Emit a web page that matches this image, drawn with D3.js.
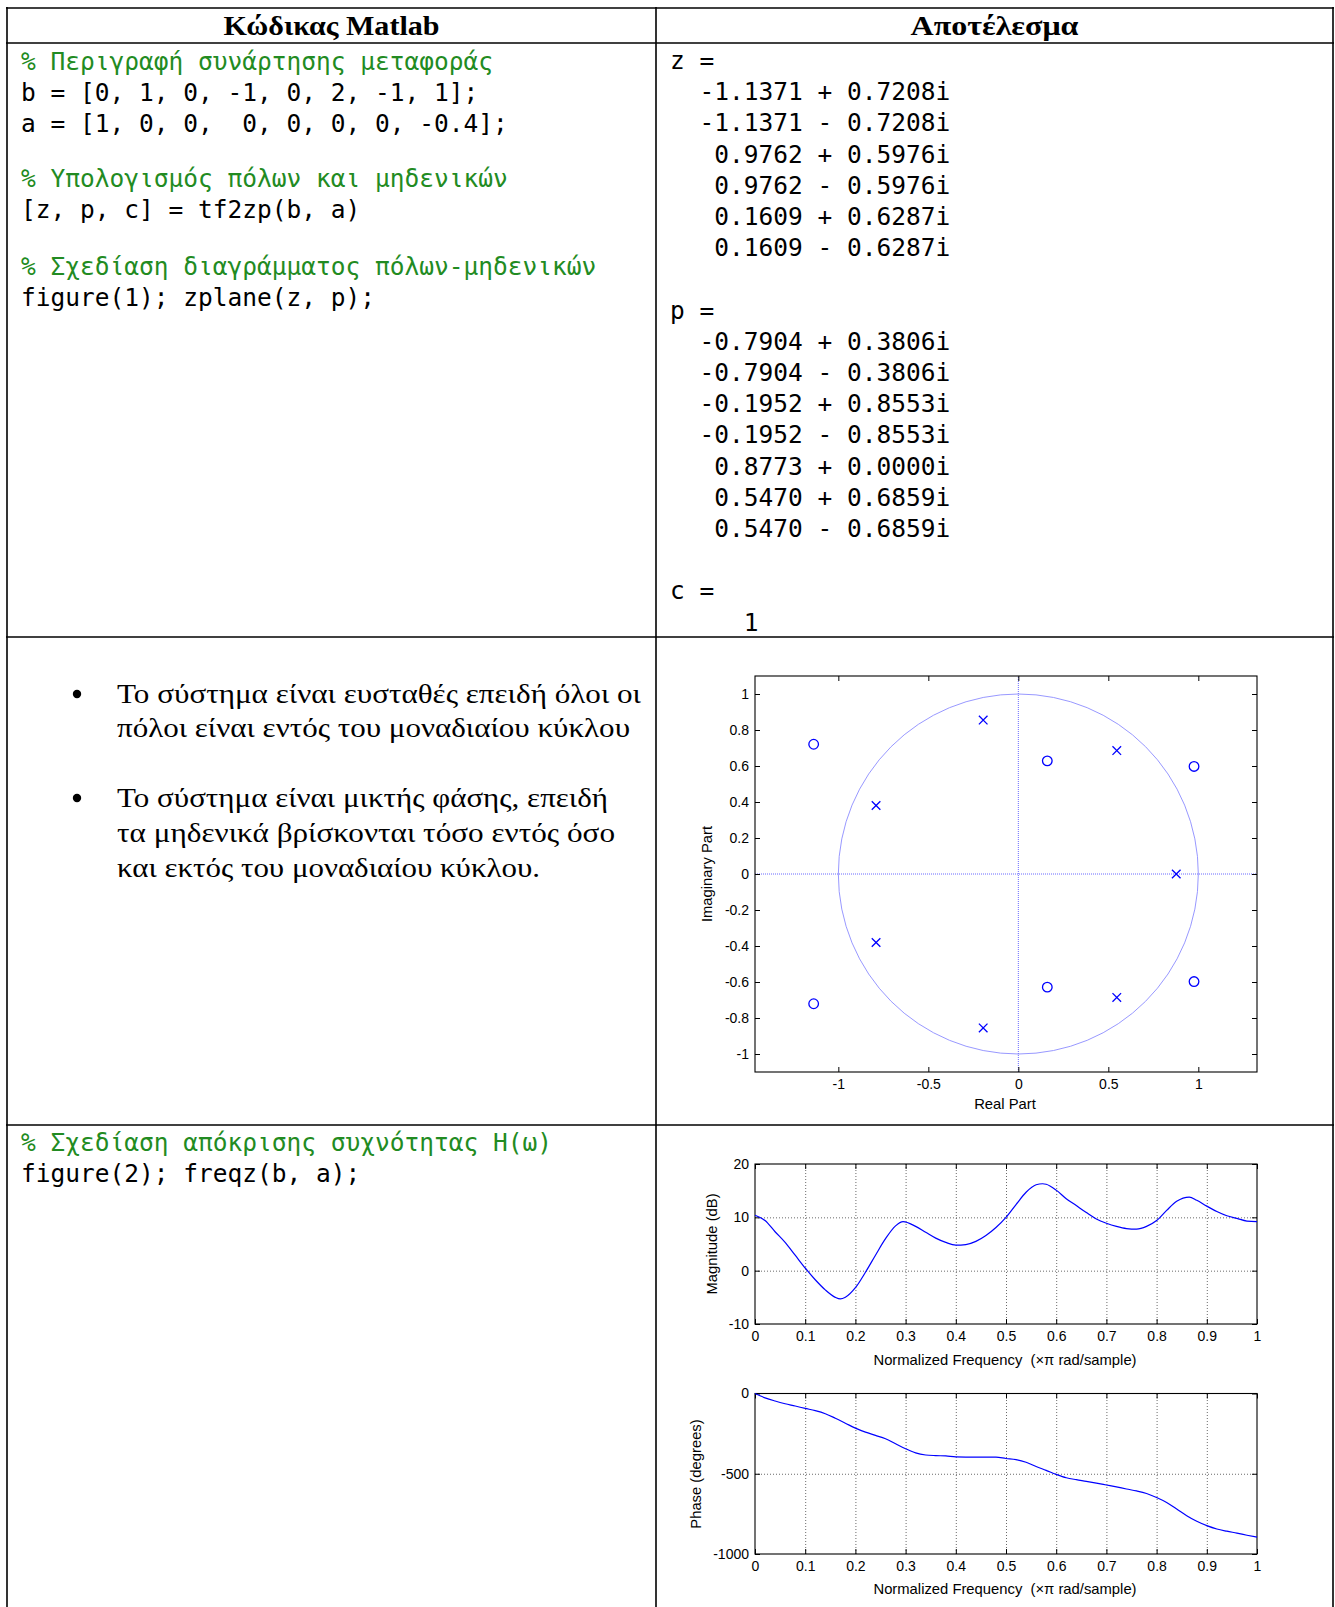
<!DOCTYPE html>
<html>
<head>
<meta charset="utf-8">
<script src="https://cdn.jsdelivr.net/npm/d3@7"></script>
<style>
  body { margin: 0; background: #fff; }
  svg text { white-space: pre; }
</style>
</head>
<body>
<div id="chart"></div>
<script>
var svgWidth = 1335;
var svgHeight = 1607;

// --- data ---
var zerosRe = [-1.1371, -1.1371, 0.9762, 0.9762, 0.1609, 0.1609];
var zerosIm = [0.7208, -0.7208, 0.5976, -0.5976, 0.6287, -0.6287];
var polesRe = [-0.7904, -0.7904, -0.1952, -0.1952, 0.8773, 0.5470, 0.5470];
var polesIm = [0.3806, -0.3806, 0.8553, -0.8553, 0.0000, 0.6859, -0.6859];
var gainC = 1;

var zTicksX = [-1, -0.5, 0, 0.5, 1];
var zTicksY = [-1, -0.8, -0.6, -0.4, -0.2, 0, 0.2, 0.4, 0.6, 0.8, 1];
var freqTicks = [0, 0.1, 0.2, 0.3, 0.4, 0.5, 0.6, 0.7, 0.8, 0.9, 1];
var magTicks = [-10, 0, 10, 20];
var phaseTicks = [-1000, -500, 0];

var magFreq = [0, 0.02, 0.04, 0.06, 0.08, 0.10, 0.12, 0.14, 0.16, 0.17,
               0.18, 0.20, 0.22, 0.24, 0.26, 0.28, 0.295, 0.32, 0.34, 0.36,
               0.38, 0.40, 0.42, 0.44, 0.46, 0.48, 0.50, 0.52, 0.54, 0.56,
               0.573, 0.58, 0.60, 0.62, 0.64, 0.66, 0.68, 0.70, 0.72, 0.74,
               0.76, 0.78, 0.80, 0.82, 0.84, 0.865, 0.88, 0.90, 0.92, 0.94,
               0.96, 0.98, 1.00];
var magDb = [10.4, 9.4, 7.3, 5.3, 2.9, 0.5, -1.7, -3.6, -5.0, -5.3,
             -5.0, -3.2, -0.3, 2.9, 6.0, 8.4, 9.2, 8.3, 7.2, 6.1,
             5.3, 4.8, 4.9, 5.5, 6.6, 8.1, 10.0, 12.4, 14.7, 16.1,
             16.3, 16.2, 15.1, 13.5, 12.2, 10.9, 9.7, 8.9, 8.3, 7.9,
             7.8, 8.3, 9.4, 11.3, 13.0, 13.8, 13.2, 12.1, 11.1, 10.3,
             9.8, 9.3, 9.2];

var phaseFreq = [0, 0.02, 0.04, 0.06, 0.08, 0.10, 0.12, 0.14, 0.16, 0.18,
                 0.20, 0.22, 0.24, 0.26, 0.28, 0.30, 0.32, 0.34, 0.36, 0.38,
                 0.40, 0.44, 0.48, 0.50, 0.52, 0.54, 0.56, 0.58, 0.60, 0.62,
                 0.64, 0.66, 0.68, 0.70, 0.72, 0.74, 0.76, 0.78, 0.80, 0.82,
                 0.84, 0.86, 0.88, 0.90, 0.92, 0.94, 0.96, 0.98, 1.00];
var phaseDeg = [0, -27, -47, -64, -78, -93, -107, -126, -154, -185,
                -216, -241, -261, -282, -313, -344, -370, -383, -387, -389,
                -395, -397, -397, -405, -412, -428, -455, -479, -504, -525,
                -537, -547, -558, -570, -582, -595, -607, -623, -648, -679,
                -720, -761, -796, -823, -844, -858, -870, -883, -895];

var codeTop = [
  { t: "% Περιγραφή συνάρτησης μεταφοράς", c: true },
  { t: "b = [0, 1, 0, -1, 0, 2, -1, 1];" },
  { t: "a = [1, 0, 0,  0, 0, 0, 0, -0.4];" },
  { t: "% Υπολογισμός πόλων και μηδενικών", c: true },
  { t: "[z, p, c] = tf2zp(b, a)" },
  { t: "% Σχεδίαση διαγράμματος πόλων-μηδενικών", c: true },
  { t: "figure(1); zplane(z, p);" }
];
var codeTopY = [70, 101, 132, 187, 218, 275, 306];
var codeBottom = [
  { t: "% Σχεδίαση απόκρισης συχνότητας H(ω)", c: true },
  { t: "figure(2); freqz(b, a);" }
];
var codeBottomY = [1151, 1182];

var bulletLines = [
  ["Το σύστημα είναι ευσταθές επειδή όλοι οι", "πόλοι είναι εντός του μοναδιαίου κύκλου"],
  ["Το σύστημα είναι μικτής φάσης, επειδή", "τα μηδενικά βρίσκονται τόσο εντός όσο", "και εκτός του μοναδιαίου κύκλου."]
];
var bulletY = [[703, 737], [807, 842, 877]];
var bulletW = [[524, 513], [491, 498, 423]];

var MONO = "'DejaVu Sans Mono', 'Liberation Mono', monospace";
var SERIF = "'Liberation Serif', 'DejaVu Serif', serif";
var SANS = "'Liberation Sans', Arial, sans-serif";
var GREEN = "#228B22";

var svg = d3.select("#chart")
  .append("svg")
  .attr("width", svgWidth)
  .attr("height", svgHeight);

svg.append("rect").attr("width", svgWidth).attr("height", svgHeight).attr("fill", "#fff");

// table grid
var table = svg.append("g").attr("stroke", "#000").attr("stroke-width", 1.6);
[8, 43, 637, 1125].forEach(function(y) {
  table.append("line").attr("x1", 6).attr("x2", 1334).attr("y1", y).attr("y2", y);
});
[7, 656, 1333].forEach(function(x) {
  table.append("line").attr("x1", x).attr("x2", x).attr("y1", 7).attr("y2", svgHeight);
});

// headers
svg.append("text")
  .attr("x", 331.5).attr("y", 35)
  .attr("text-anchor", "middle")
  .attr("font-family", SERIF).attr("font-weight", "bold").attr("font-size", 27)
  .attr("textLength", 216).attr("lengthAdjust", "spacingAndGlyphs")
  .text("Κώδικας Matlab");
svg.append("text")
  .attr("x", 994.5).attr("y", 35)
  .attr("text-anchor", "middle")
  .attr("font-family", SERIF).attr("font-weight", "bold").attr("font-size", 27)
  .attr("textLength", 168).attr("lengthAdjust", "spacingAndGlyphs")
  .text("Αποτέλεσμα");

// code blocks
function codeBlock(lines, ys) {
  svg.append("g").selectAll("text")
    .data(lines)
    .enter().append("text")
      .attr("x", 21)
      .attr("y", function(d, i) { return ys[i]; })
      .attr("font-family", MONO).attr("font-size", 24.5)
      .attr("fill", function(d) { return d.c ? GREEN : "#000"; })
      .text(function(d) { return d.t; });
}
codeBlock(codeTop, codeTopY);
codeBlock(codeBottom, codeBottomY);

// MATLAB output
function cplx(re, im) {
  return (re < 0 ? "  " : "   ") + re.toFixed(4) + (im < 0 ? " - " : " + ") + Math.abs(im).toFixed(4) + "i";
}
var outLines = ["z ="];
zerosRe.forEach(function(r, i) { outLines.push(cplx(r, zerosIm[i])); });
outLines.push("", "p =");
polesRe.forEach(function(r, i) { outLines.push(cplx(r, polesIm[i])); });
outLines.push("", "c =", "     " + gainC);

svg.append("g").selectAll("text")
  .data(outLines)
  .enter().append("text")
    .attr("x", 670)
    .attr("y", function(d, i) { return 69 + i * 31.2; })
    .attr("font-family", MONO).attr("font-size", 24.5)
    .text(function(d) { return d; });

// bullets
bulletLines.forEach(function(lines, b) {
  svg.append("circle")
    .attr("cx", 77).attr("cy", bulletY[b][0] - 9)
    .attr("r", 4.2)
    .attr("fill", "#000");
  lines.forEach(function(t, i) {
    svg.append("text")
      .attr("x", 117).attr("y", bulletY[b][i])
      .attr("font-family", SERIF).attr("font-size", 27)
      .attr("textLength", bulletW[b][i]).attr("lengthAdjust", "spacingAndGlyphs")
      .text(t);
  });
});

// axes helper: MATLAB style box with inward ticks
function numFmt(d) { return String(+(+d).toFixed(2)); }

function drawAxes(g, x, y, xt, yt, grid) {
  var xr = x.range(), yr = y.range();
  var w = xr[1] - xr[0], h = yr[0] - yr[1];

  if (grid) {
    g.append("g")
      .attr("transform", "translate(0," + yr[0] + ")")
      .call(d3.axisBottom(x).tickValues(xt.slice(1, -1)).tickSize(-h).tickFormat(""))
      .call(function(s) { s.select(".domain").remove(); })
      .selectAll("line").attr("stroke", "#444").attr("stroke-width", 0.8).attr("stroke-dasharray", "1,2");
    g.append("g")
      .attr("transform", "translate(" + xr[0] + ",0)")
      .call(d3.axisLeft(y).tickValues(yt.slice(1, -1)).tickSize(-w).tickFormat(""))
      .call(function(s) { s.select(".domain").remove(); })
      .selectAll("line").attr("stroke", "#444").attr("stroke-width", 0.8).attr("stroke-dasharray", "1,2");
  }

  var bottom = g.append("g")
    .attr("transform", "translate(0," + yr[0] + ")")
    .call(d3.axisBottom(x).tickValues(xt).tickSize(-5).tickPadding(7).tickFormat(numFmt));
  var left = g.append("g")
    .attr("transform", "translate(" + xr[0] + ",0)")
    .call(d3.axisLeft(y).tickValues(yt).tickSize(-5).tickPadding(6).tickFormat(numFmt));
  g.append("g")
    .attr("transform", "translate(0," + yr[1] + ")")
    .call(d3.axisTop(x).tickValues(xt).tickSize(-5).tickFormat(""));
  g.append("g")
    .attr("transform", "translate(" + xr[1] + ",0)")
    .call(d3.axisRight(y).tickValues(yt).tickSize(-5).tickFormat(""));

  g.selectAll(".domain").remove();
  [bottom, left].forEach(function(a) {
    a.attr("font-family", SANS).attr("font-size", 14);
  });

  g.append("rect")
    .attr("x", xr[0]).attr("y", yr[1])
    .attr("width", w).attr("height", h)
    .attr("fill", "none").attr("stroke", "#000").attr("stroke-width", 1.1);
}

function yLabel(text, xc, yc) {
  svg.append("text")
    .attr("transform", "translate(" + xc + "," + yc + ") rotate(-90)")
    .attr("text-anchor", "middle").attr("dy", "0.35em")
    .attr("font-family", SANS).attr("font-size", 14.8)
    .text(text);
}
function xLabel(text, xc, y) {
  svg.append("text")
    .attr("x", xc).attr("y", y)
    .attr("text-anchor", "middle")
    .attr("font-family", SANS).attr("font-size", 14.8)
    .text(text);
}

// --- pole-zero plot ---
var zx = d3.scaleLinear().domain([-1.463, 1.326]).range([755, 1257]);
var zy = d3.scaleLinear().domain([-1.1, 1.1]).range([1072, 676]);
var zg = svg.append("g");

zg.append("ellipse")
  .attr("cx", zx(0)).attr("cy", zy(0))
  .attr("rx", zx(1) - zx(0)).attr("ry", zy(0) - zy(1))
  .attr("fill", "none").attr("stroke", "#8c8cff").attr("stroke-width", 0.9);
zg.append("line")
  .attr("x1", zx.range()[0]).attr("x2", zx.range()[1])
  .attr("y1", zy(0)).attr("y2", zy(0))
  .attr("stroke", "#6a6aff").attr("stroke-width", 1).attr("stroke-dasharray", "1,1");
zg.append("line")
  .attr("x1", zx(0)).attr("x2", zx(0))
  .attr("y1", zy.range()[0]).attr("y2", zy.range()[1])
  .attr("stroke", "#6a6aff").attr("stroke-width", 1).attr("stroke-dasharray", "1,1");

drawAxes(zg, zx, zy, zTicksX, zTicksY, false);

zg.append("g").selectAll("circle")
  .data(zerosRe)
  .enter().append("circle")
    .attr("cx", function(d) { return zx(d); })
    .attr("cy", function(d, i) { return zy(zerosIm[i]); })
    .attr("r", 4.8)
    .attr("fill", "none").attr("stroke", "#0000ff").attr("stroke-width", 1.3);

var xSize = 4.3;
zg.append("g").selectAll("path")
  .data(polesRe)
  .enter().append("path")
    .attr("d", function(d, i) {
      var cx = zx(d), cy = zy(polesIm[i]);
      return "M" + (cx - xSize) + "," + (cy - xSize) + "L" + (cx + xSize) + "," + (cy + xSize) +
             "M" + (cx - xSize) + "," + (cy + xSize) + "L" + (cx + xSize) + "," + (cy - xSize);
    })
    .attr("fill", "none").attr("stroke", "#0000ff").attr("stroke-width", 1.3);

yLabel("Imaginary Part", 707, 874);
xLabel("Real Part", 1005, 1109);

// --- magnitude ---
var fx = d3.scaleLinear().domain([0, 1]).range([755, 1257]);
var my = d3.scaleLinear().domain([-10, 20]).range([1324, 1164]);
var mg = svg.append("g");
drawAxes(mg, fx, my, freqTicks, magTicks, true);

var magLine = d3.line()
  .x(function(d) { return fx(d[0]); })
  .y(function(d) { return my(d[1]); })
  .curve(d3.curveMonotoneX);
mg.append("path")
  .datum(d3.zip(magFreq, magDb))
  .attr("d", magLine)
  .attr("fill", "none").attr("stroke", "#0000ff").attr("stroke-width", 1.2);

yLabel("Magnitude (dB)", 712, 1244);
xLabel("Normalized Frequency  (\u00d7\u03c0 rad/sample)", 1005, 1365);

// --- phase ---
var py = d3.scaleLinear().domain([-1000, 0]).range([1554, 1393.5]);
var pg = svg.append("g");
drawAxes(pg, fx, py, freqTicks, phaseTicks, true);

var phaseLine = d3.line()
  .x(function(d) { return fx(d[0]); })
  .y(function(d) { return py(d[1]); })
  .curve(d3.curveMonotoneX);
pg.append("path")
  .datum(d3.zip(phaseFreq, phaseDeg))
  .attr("d", phaseLine)
  .attr("fill", "none").attr("stroke", "#0000ff").attr("stroke-width", 1.2);

yLabel("Phase (degrees)", 696, 1474);
xLabel("Normalized Frequency  (\u00d7\u03c0 rad/sample)", 1005, 1594);
</script>
</body>
</html>
